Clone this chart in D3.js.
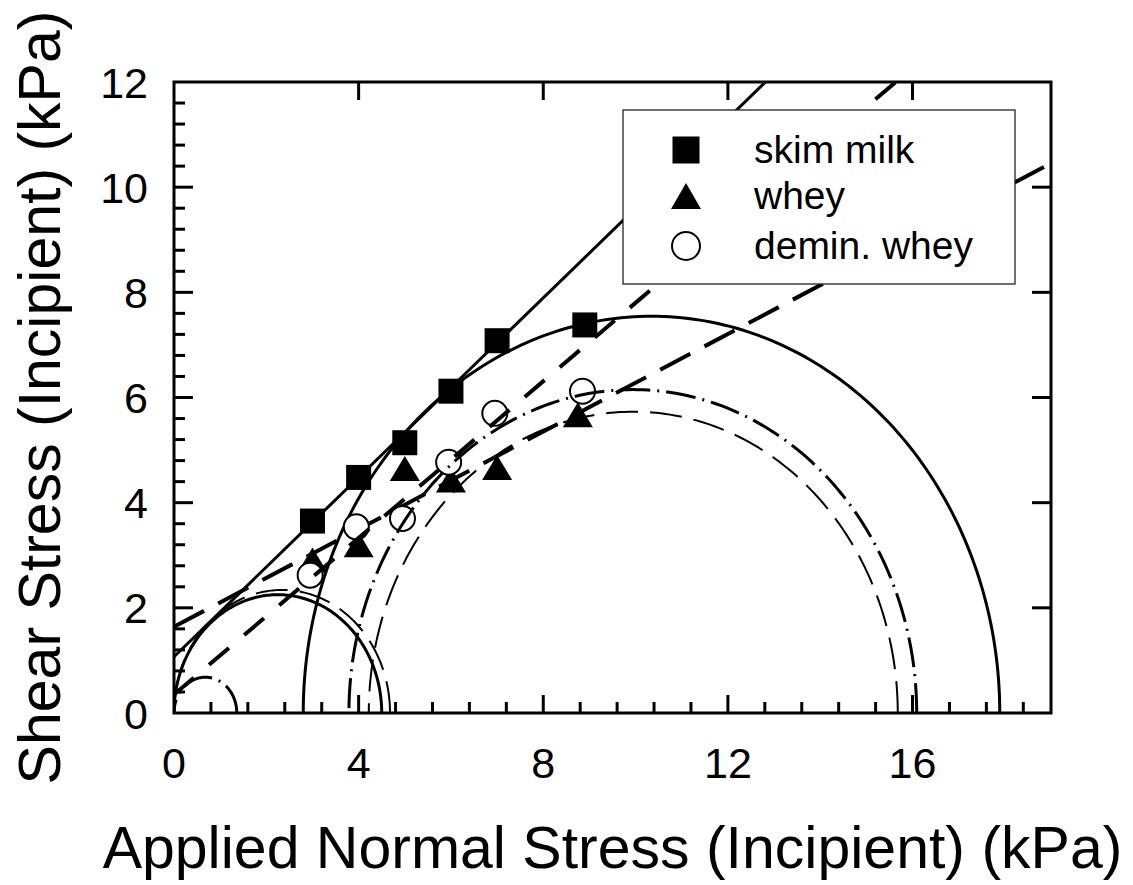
<!DOCTYPE html>
<html><head><meta charset="utf-8">
<script src="https://cdn.jsdelivr.net/npm/d3@7"></script>
<style>body{margin:0;background:#fff}</style>
</head><body>
<svg id="chart" width="1133" height="885"></svg>
<script>
// ---- data ----
const seriesNames = ["skim milk", "whey", "demin. whey"];
const skimX = [3, 4, 5, 6, 7, 8.9];
const skimY = [3.65, 4.48, 5.14, 6.12, 7.08, 7.38];
const wheyX = [3, 4, 5, 6, 7, 8.75];
const wheyY = [2.91, 3.2, 4.65, 4.43, 4.67, 5.67];
const deminX = [2.95, 3.95, 4.95, 5.95, 6.95, 8.85];
const deminY = [2.62, 3.54, 3.7, 4.77, 5.7, 6.12];
// yield loci (skim, whey, demin): intercept and slope
const lineIntercepts = [1.07, 1.64, 0.35];
const lineSlopes = [0.853, 0.464, 0.745];
// Mohr circles (small, large)
const skimCircleCenters = [2.25, 10.345];
const skimCircleRadii = [2.25, 7.545];
const wheyCircleCenters = [2.34, 9.95];
const wheyCircleRadii = [2.34, 5.73];
const deminCircleCenters = [0.68, 9.94];
const deminCircleRadii = [0.68, 6.15];
const xTickLabels = [0, 4, 8, 12, 16];
const yTickLabels = [0, 2, 4, 6, 8, 10, 12];
const xDomain = [0, 19];
const yDomain = [0, 12];

// ---- setup ----
const FONT = "'Liberation Sans', Arial, Helvetica, sans-serif";
const svg = d3.select("#chart");
const L = 174, R = 1051, T = 82, B = 713;
const x = d3.scaleLinear().domain(xDomain).range([L, R]);
const y = d3.scaleLinear().domain(yDomain).range([B, T]);

svg.append("defs").append("clipPath").attr("id", "clip")
  .append("rect").attr("x", L).attr("y", T).attr("width", R - L).attr("height", B - T);

const plot = svg.append("g").attr("clip-path", "url(#clip)");

function yieldLine(i, g, dash, width) {
  const xs = [xDomain[0], xDomain[1]];
  g.append("path")
    .datum(xs.map(v => [v, lineIntercepts[i] + lineSlopes[i] * v]))
    .attr("d", d3.line().x(d => x(d[0])).y(d => y(d[1])))
    .attr("fill", "none").attr("stroke", "#000")
    .attr("stroke-width", width)
    .attr("stroke-dasharray", dash);
}
function mohr(c, r, g, dash, width) {
  const angles = d3.range(0, 181, 1).map(a => a * Math.PI / 180);
  g.append("path")
    .datum(angles.map(t => [c + r * Math.cos(t), r * Math.sin(t)]))
    .attr("d", d3.line().x(d => x(d[0])).y(d => y(d[1])))
    .attr("fill", "none").attr("stroke", "#000")
    .attr("stroke-width", width)
    .attr("stroke-dasharray", dash);
}

const skimStyle = { dash: null, w: 3 };
const wheyLineStyle = { dash: "34,16", w: 4 };
const deminLineStyle = { dash: "26,20", w: 4 };
const wheyCircStyle = { dash: "32,12", w: 2 };
const deminCircStyle = { dash: "30,7,2,7", w: 3 };

// skim
yieldLine(0, plot, skimStyle.dash, skimStyle.w);
skimCircleCenters.forEach((c, i) => mohr(c, skimCircleRadii[i], plot, skimStyle.dash, skimStyle.w));
// whey
yieldLine(1, plot, wheyLineStyle.dash, wheyLineStyle.w);
wheyCircleCenters.forEach((c, i) => mohr(c, wheyCircleRadii[i], plot, wheyCircStyle.dash, wheyCircStyle.w));

// markers
const mk = svg.append("g");
const triPath = (w, h) => `M0,${-h / 2}L${w / 2},${h / 2}L${-w / 2},${h / 2}Z`;
skimX.forEach((v, i) => {
  mk.append("rect").attr("x", x(v) - 12.5).attr("y", y(skimY[i]) - 12.5)
    .attr("width", 25).attr("height", 25).attr("fill", "#000");
});
wheyX.forEach((v, i) => {
  mk.append("path").attr("d", triPath(30, 25))
    .attr("transform", `translate(${x(v)},${y(wheyY[i])})`).attr("fill", "#000");
});
deminX.forEach((v, i) => {
  mk.append("circle").attr("cx", x(v)).attr("cy", y(deminY[i])).attr("r", 12.5)
    .attr("fill", "#fff").attr("stroke", "#000").attr("stroke-width", 2);
});

// demin lines on top
const plot2 = svg.append("g").attr("clip-path", "url(#clip)");
yieldLine(2, plot2, deminLineStyle.dash, deminLineStyle.w);
deminCircleCenters.forEach((c, i) => mohr(c, deminCircleRadii[i], plot2, deminCircStyle.dash, deminCircStyle.w));

// ---- axes / frame ----
const ax = svg.append("g").attr("stroke", "#000").attr("stroke-width", 3);
const minorX = d3.range(0.8, 19, 0.8);
minorX.forEach(v => {
  const major = Math.abs(v / 4 - Math.round(v / 4)) < 1e-6;
  ax.append("line").attr("x1", x(v)).attr("x2", x(v))
    .attr("y1", B).attr("y2", B - (major ? 18 : 11));
});
xTickLabels.filter(v => v > 0).forEach(v => {
  ax.append("line").attr("x1", x(v)).attr("x2", x(v)).attr("y1", T).attr("y2", T + 18);
});
const minorY = d3.range(0.4, 12, 0.4);
minorY.forEach(v => {
  const major = Math.abs(v / 2 - Math.round(v / 2)) < 1e-6;
  ax.append("line").attr("y1", y(v)).attr("y2", y(v))
    .attr("x1", L).attr("x2", L + (major ? 19 : 11));
});
yTickLabels.filter(v => v > 0 && v < 12).forEach(v => {
  ax.append("line").attr("y1", y(v)).attr("y2", y(v)).attr("x1", R).attr("x2", R - 19);
});
svg.append("rect").attr("x", L).attr("y", T).attr("width", R - L).attr("height", B - T)
  .attr("fill", "none").attr("stroke", "#000").attr("stroke-width", 3);

// tick labels
svg.append("g").selectAll("text").data(xTickLabels).join("text")
  .attr("x", d => x(d)).attr("y", 778).attr("text-anchor", "middle")
  .attr("font-family", FONT).attr("font-size", 43).text(d => d);
svg.append("g").selectAll("text").data(yTickLabels).join("text")
  .attr("x", 148).attr("y", d => y(d) + 15.5).attr("text-anchor", "end")
  .attr("font-family", FONT).attr("font-size", 43).text(d => d);

// axis titles
svg.append("text").attr("x", (L + R) / 2).attr("y", 868).attr("text-anchor", "middle")
  .attr("font-family", FONT).attr("font-size", 59)
  .text("Applied Normal Stress (Incipient) (kPa)");
svg.append("text").attr("transform", `translate(60,${(T + B) / 2}) rotate(-90)`)
  .attr("text-anchor", "middle")
  .attr("font-family", FONT).attr("font-size", 59)
  .text("Shear Stress (Incipient) (kPa)");

// ---- legend ----
const lg = svg.append("g");
lg.append("rect").attr("x", 623).attr("y", 110).attr("width", 392).attr("height", 174)
  .attr("fill", "#fff").attr("stroke", "#222").attr("stroke-width", 1.3);
const rowsY = [150, 196, 246];
lg.append("rect").attr("x", 686 - 13.5).attr("y", rowsY[0] - 13.5).attr("width", 27).attr("height", 27).attr("fill", "#000");
lg.append("path").attr("d", triPath(30, 26)).attr("transform", `translate(686,${rowsY[1]})`).attr("fill", "#000");
lg.append("circle").attr("cx", 686).attr("cy", rowsY[2]).attr("r", 14)
  .attr("fill", "#fff").attr("stroke", "#000").attr("stroke-width", 2);
seriesNames.forEach((n, i) => {
  lg.append("text").attr("x", 754).attr("y", rowsY[i] + 13)
    .attr("font-family", FONT).attr("font-size", 39).text(n);
});
</script>
</body></html>
